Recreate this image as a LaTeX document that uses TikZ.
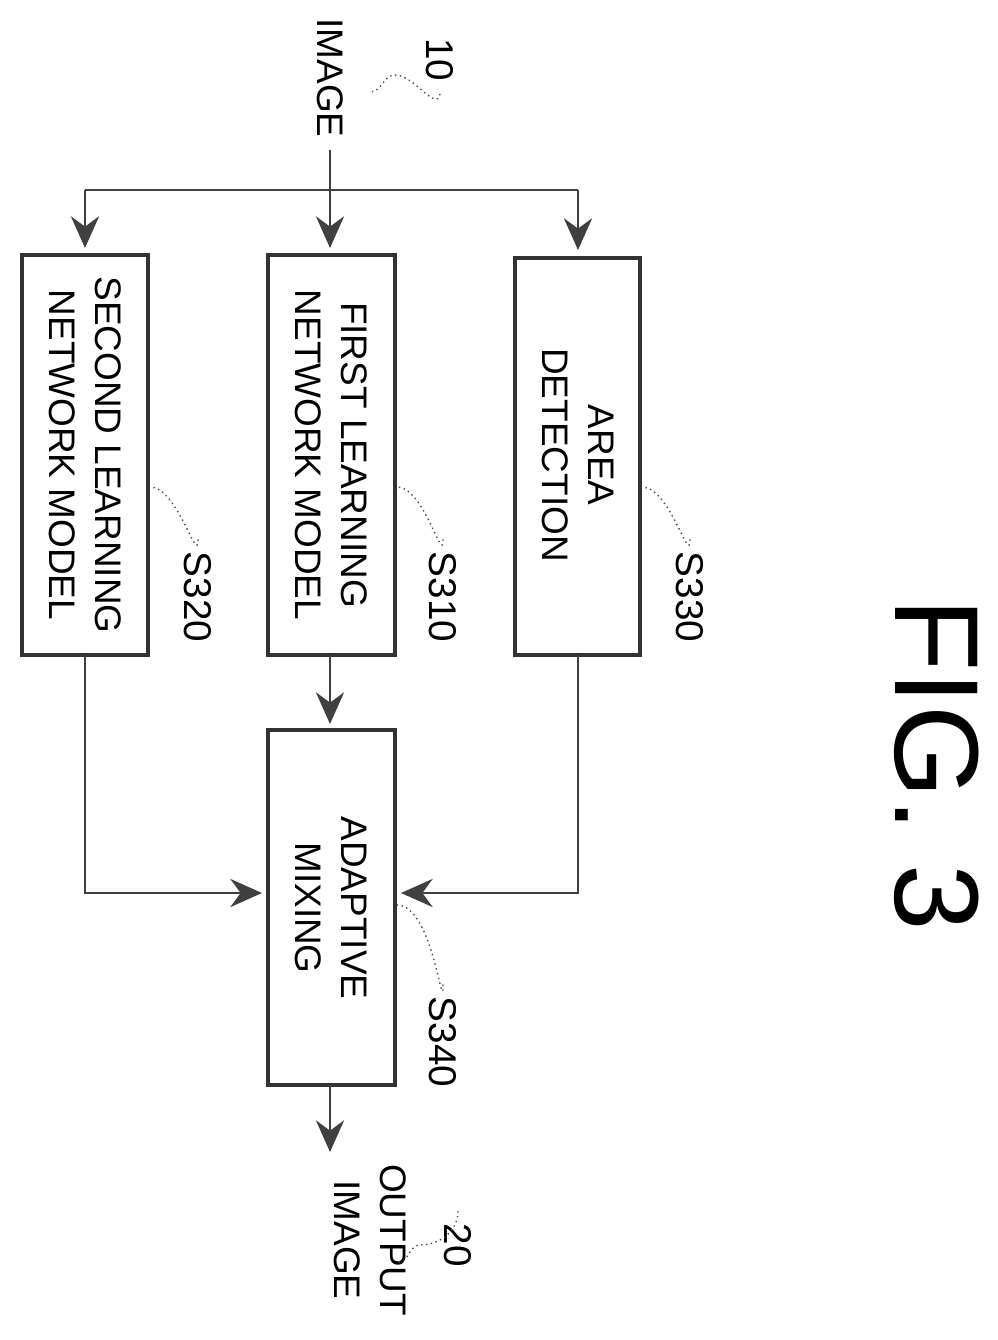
\documentclass[tikz,border=0pt]{standalone}
\usepackage{fontspec}
\setmainfont{Liberation Sans}
\usetikzlibrary{arrows.meta,positioning,calc}

\begin{document}
\begin{tikzpicture}[x=0.01cm,y=-0.01cm,
    line/.style={draw=black!75, thick},
    arr/.style={line, -{Stealth[length=9pt,width=8pt]}},
    blk/.style={very thick, draw=black!80},
    txt/.style={rotate=-90, align=center, font=\fontsize{10.5}{13}\selectfont},
    lbl/.style={rotate=-90, font=\fontsize{11}{13}\selectfont},
    sq/.style={draw=black!70, thin, densely dotted}]
\useasboundingbox (0,0) rectangle (997,1340);

% input
\node[txt] (img) at (330,78) {IMAGE};
\node[lbl] (l10) at (440,60) {10};
\draw[sq] (l10.east) to[out=-100,in=0] (395,75) to[out=180,in=0] (370,92);
\coordinate (split) at (330,190);
\draw[line] (img.east) -- (split);
\draw[line] (85,190) -- (578,190);

% boxes
\draw[blk] (22,255) rectangle (148,655);
\node[txt] (second) at (85,455) {SECOND LEARNING\\NETWORK MODEL};
\draw[blk] (268,255) rectangle (395,655);
\node[txt] (first) at (331,455) {FIRST LEARNING\\NETWORK MODEL};
\draw[blk] (515,258) rectangle (640,655);
\node[txt] (area) at (578,455) {AREA\\DETECTION};
\draw[blk] (268,730) rectangle (395,1085);
\node[txt] (mix) at (331,908) {ADAPTIVE\\MIXING};

% input arrows
\draw[arr] (85,190) -- (85,248);
\draw[arr] (split) -- (330,248);
\draw[arr] (578,190) -- (578,250);

% labels
\node[lbl] (s320) at (198,597) {S320};
\node[lbl] (s310) at (443,597) {S310};
\node[lbl] (s330) at (690,597) {S330};
\node[lbl] (s340) at (443,1042) {S340};
\draw[sq] (s320.west) to[out=-90,in=0] (150,487);
\draw[sq] (s310.west) to[out=-90,in=0] (397,487);
\draw[sq] (s330.west) to[out=-90,in=0] (642,487);
\draw[sq] (s340.west) to[out=-90,in=0] (397,905);

% outputs of blocks
\draw[arr] (330,655) -- (330,724);
\draw[arr] (85,655) -- (85,893) -- (262,893);
\draw[arr] (578,655) -- (578,893) -- (401,893);

% output
\draw[arr] (330,1085) -- (330,1152);
\node[txt] (out) at (370,1240) {OUTPUT\\IMAGE};
\node[lbl] (l20) at (458,1245) {20};
\draw[sq] (l20.west) to[out=-90,in=0] (420,1245) to[out=180,in=0] (398,1262);

% caption
\node[rotate=-90, inner sep=0pt, font=\fontsize{34}{38}\selectfont] (fig) at (937,765) {FIG. 3};
\end{tikzpicture}
\end{document}
